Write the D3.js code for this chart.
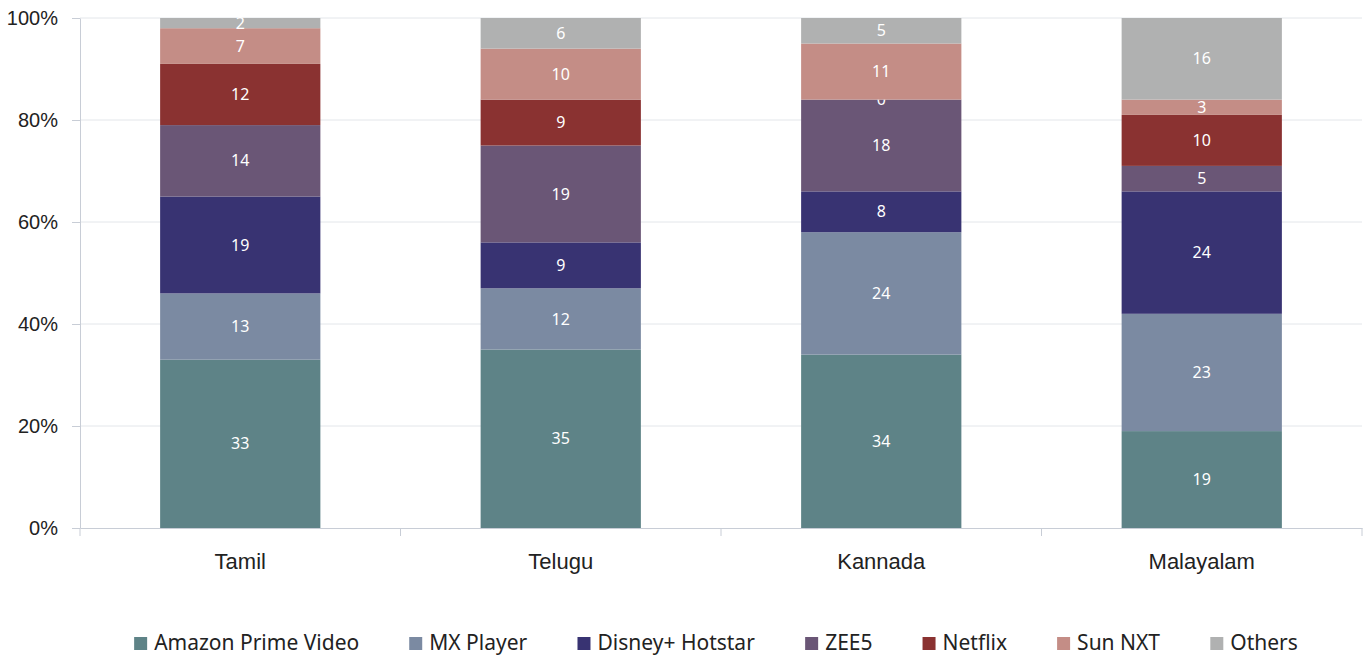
<!DOCTYPE html>
<html>
<head>
<meta charset="utf-8">
<script src="https://cdn.jsdelivr.net/npm/d3@7"></script>
<style>
  body { margin: 0; background: #fff; }
  svg { font-family: "Noto Sans", "Open Sans", sans-serif; }
  .grid line { stroke: #e3e6ea; }
  .axis path, .axis line { stroke: #c8cdd6; }
  .axis text { fill: #222; }
</style>
</head>
<body>
<div id="chart"></div>
<script>
const categories = ["Tamil", "Telugu", "Kannada", "Malayalam"];
const series = ["Amazon Prime Video", "MX Player", "Disney+ Hotstar", "ZEE5", "Netflix", "Sun NXT", "Others"];
const amazon = [33, 35, 34, 19];
const mxPlayer = [13, 12, 24, 23];
const hotstar = [19, 9, 8, 24];
const zee5 = [14, 19, 18, 5];
const netflix = [12, 9, 0, 10];
const sunNxt = [7, 10, 11, 3];
const others = [2, 6, 5, 16];
const yTicks = [0, 20, 40, 60, 80, 100];
const colors = ["#5e8387", "#7b8aa2", "#383372", "#6a5676", "#8a3231", "#c48d86", "#b0b1b1"];

const values = [amazon, mxPlayer, hotstar, zee5, netflix, sunNxt, others];
const rows = categories.map((c, i) => {
  const r = { cat: c };
  series.forEach((s, j) => { r[s] = values[j][i]; });
  return r;
});

const width = 1369, height = 657;
const margin = { top: 18, right: 7, bottom: 129, left: 80 };

const svg = d3.select("#chart").append("svg")
  .attr("width", width).attr("height", height);

const x = d3.scaleBand().domain(categories)
  .range([margin.left, width - margin.right]).paddingInner(0.5).paddingOuter(0.25);
const y = d3.scaleLinear().domain([0, 100]).range([height - margin.bottom, margin.top]);

// gridlines
svg.append("g").attr("class", "grid")
  .selectAll("line").data(yTicks.slice(1)).enter().append("line")
  .attr("x1", margin.left).attr("x2", width - margin.right)
  .attr("y1", d => y(d)).attr("y2", d => y(d));

const stacked = d3.stack().keys(series)(rows);

const layers = svg.append("g").selectAll("g").data(stacked).enter().append("g")
  .attr("fill", (d, i) => colors[i]);

layers.selectAll("rect").data(d => d).enter().append("rect")
  .attr("x", d => x(d.data.cat))
  .attr("width", x.bandwidth())
  .attr("y", d => y(d[1]))
  .attr("height", d => y(d[0]) - y(d[1]));

layers.selectAll("text").data(d => d).enter().append("text")
  .attr("x", d => x(d.data.cat) + x.bandwidth() / 2)
  .attr("y", d => (y(d[0]) + y(d[1])) / 2)
  .attr("dy", "0.35em")
  .attr("text-anchor", "middle")
  .attr("fill", "#fff")
  .style("font-size", "16px")
  .text(d => d[1] - d[0]);

// y axis
const yAxis = svg.append("g").attr("class", "axis")
  .attr("transform", `translate(${margin.left},0)`)
  .call(d3.axisLeft(y).tickValues(yTicks).tickFormat(d => d + "%").tickSize(8).tickSizeOuter(0));
yAxis.selectAll("text").style("font-size", "20px").attr("x", -22);

// x axis
const xAxis = svg.append("g").attr("class", "axis")
  .attr("transform", `translate(0,${height - margin.bottom})`)
  .call(d3.axisBottom(x).tickSize(0).tickSizeOuter(0));
xAxis.selectAll("text").style("font-size", "22px").attr("dy", "0").attr("y", 41);
const bandW = (width - margin.right - margin.left) / categories.length;
xAxis.selectAll(".sep").data(d3.range(categories.length + 1)).enter().append("line")
  .attr("class", "sep")
  .attr("x1", i => margin.left + i * bandW)
  .attr("x2", i => margin.left + i * bandW)
  .attr("y1", 0).attr("y2", 8)
  .attr("stroke", "#c8cdd6");

// legend
const gap = 50;
const legend = svg.append("g").attr("transform", `translate(0,643)`);
const items = legend.selectAll("g").data(series).enter().append("g");
items.append("rect").attr("width", 13).attr("height", 13).attr("y", -6)
  .attr("fill", (d, i) => colors[i]);
items.append("text").attr("x", 20).attr("dy", "0.35em")
  .style("font-size", "21px").attr("fill", "#222").text(d => d);
let pos = 0;
const offsets = [];
items.each(function () {
  offsets.push(pos);
  pos += this.getBBox().width + gap;
});
const total = pos - gap;
const start = 716 - total / 2;
items.attr("transform", (d, i) => `translate(${start + offsets[i]},0)`);
</script>
</body>
</html>
